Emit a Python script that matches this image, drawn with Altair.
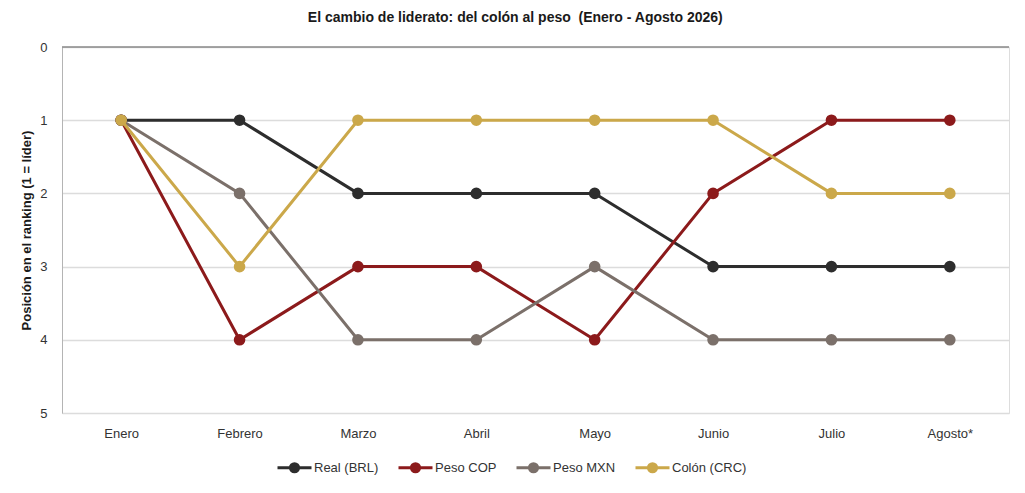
import altair as alt
import pandas as pd

MONTHS = ["Enero", "Febrero", "Marzo", "Abril", "Mayo", "Junio", "Julio", "Agosto*"]
SERIES = ["Real (BRL)", "Peso COP", "Peso MXN", "Colón (CRC)"]
COLORS = ["#2d2d2d", "#8c1a1b", "#7b706a", "#cba84a"]

real_brl = [1, 1, 2, 2, 2, 3, 3, 3]
peso_cop = [1, 4, 3, 3, 4, 2, 1, 1]
peso_mxn = [1, 2, 4, 4, 3, 4, 4, 4]
colon_crc = [1, 3, 1, 1, 1, 1, 2, 2]

VALUES = [real_brl, peso_cop, peso_mxn, colon_crc]
FONT = "Liberation Sans"

color_scale = alt.Scale(domain=SERIES, range=COLORS)
legend = alt.Legend(
    title=None,
    orient="none",
    direction="horizontal",
    columns=4,
    legendX=214,
    legendY=402,
    symbolType="M-1,0H1M-0.24,0A0.24,0.24 0 1,0 0.24,0A0.24,0.24 0 1,0 -0.24,0Z",
    symbolSize=1156,
    symbolStrokeWidth=3,
    labelFontSize=13,
    labelColor="#333333",
    labelFont=FONT,
    labelOffset=1,
    columnPadding=13,
    padding=0,
)

x_enc = alt.X(
    "mes:N",
    sort=MONTHS,
    title=None,
    scale=alt.Scale(padding=0.5),
    axis=alt.Axis(
        domain=False, ticks=False, labelAngle=0, labelPadding=14,
        labelFontSize=13, labelColor="#333333", labelFont=FONT,
    ),
)
y_enc = alt.Y(
    "pos:Q",
    title="Posición en el ranking (1 = líder)",
    scale=alt.Scale(domain=[0, 5], reverse=True, nice=False),
    axis=alt.Axis(
        values=[0, 1, 2, 3, 4, 5], format="d", ticks=False,
        domainColor="#b4b4b4", domainWidth=1,
        gridColor="#dcdcdc", gridWidth=1.5,
        labelPadding=15, labelFontSize=13, labelColor="#333333", labelFont=FONT,
        titleFontSize=13, titleFontWeight="bold", titleColor="#1a1a1a",
        titleFont=FONT, titlePadding=6,
    ),
)

layers = []
for name, vals in zip(SERIES, VALUES):
    df = pd.DataFrame({"mes": MONTHS, "pos": vals, "serie": name})
    base = alt.Chart(df).encode(x=x_enc, y=y_enc)
    line = base.mark_line(strokeWidth=3).encode(
        color=alt.Color("serie:N", scale=color_scale, legend=legend)
    )
    pts = base.mark_point(filled=True, size=135, opacity=1).encode(
        color=alt.Color("serie:N", scale=color_scale, legend=legend)
    )
    layers += [line, pts]

top_rule = (
    alt.Chart(pd.DataFrame({"pos": [0]}))
    .mark_rule(color="#8a8a8a", strokeWidth=1.5)
    .encode(y=alt.Y("pos:Q", scale=alt.Scale(domain=[0, 5], reverse=True, nice=False)))
)

chart = (
    alt.layer(top_rule, *layers)
    .properties(
        width=947,
        height=366,
        autosize=alt.AutoSizeParams(type="none"),
        padding={"left": 54, "top": 39, "right": 8, "bottom": 70},
        title=alt.Title(
            "El cambio de liderato: del colón al peso\u00a0\u00a0(Enero - Agosto 2026)",
            anchor="middle", frame="bounds", fontSize=14, fontWeight="bold",
            font=FONT, color="#1a1a1a", offset=16,
        ),
    )
    .configure_view(stroke=None)
    .configure(background="white")
)

chart.save("out.html", embed_options={"renderer": "svg", "actions": False})
